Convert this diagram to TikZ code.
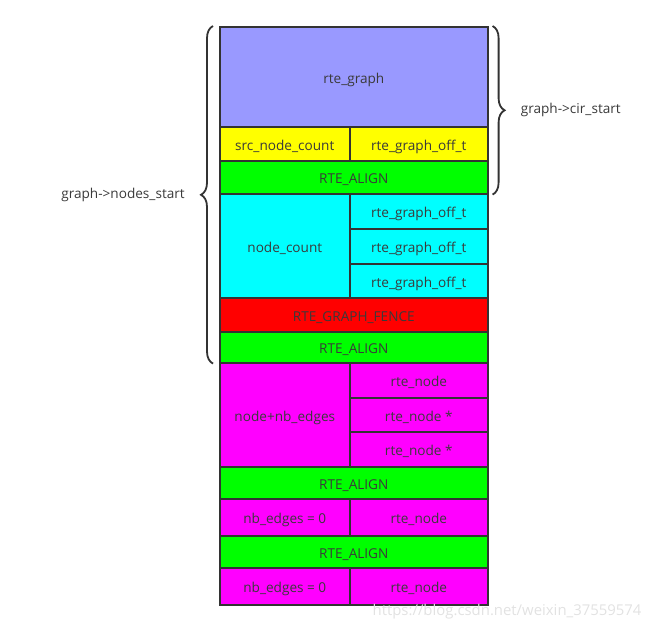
\documentclass[tikz,border=0pt]{standalone}
\usepackage{fontspec}
\setmainfont{Open Sans}
\usepackage{tikz}
\usetikzlibrary{positioning}
\usetikzlibrary{decorations.pathreplacing}

\definecolor{headblue}{HTML}{9999FF}
\definecolor{cellyellow}{HTML}{FFFF00}
\definecolor{cellgreen}{HTML}{00FF00}
\definecolor{cellcyan}{HTML}{00FFFF}
\definecolor{cellred}{HTML}{FF0000}
\definecolor{cellmagenta}{HTML}{FF00FF}
\definecolor{cellline}{HTML}{333333}
\definecolor{celltext}{HTML}{3A3A3A}
\definecolor{markcolor}{HTML}{E2E2E2}

\tikzset{
	cell/.style={draw=cellline, line width=1.6pt, anchor=north west, inner sep=0pt,
		text=celltext, font=\fontsize{13.6}{15}\selectfont, text height=13pt, text depth=0pt},
	wide/.style={cell, minimum width=268pt},
	lhalf/.style={cell, minimum width=130pt},
	rhalf/.style={cell, minimum width=138pt},
	bracket/.style={decorate, decoration={brace, amplitude=12pt}, draw=cellline, line width=1.8pt},
	bracelabel/.style={text=celltext, font=\fontsize{13.6}{15}\selectfont},
}

\begin{document}
\begin{tikzpicture}[x=1pt, y=-1pt]
\useasboundingbox (0,0) rectangle (653,631);

% header
\node[wide, fill=headblue, minimum height=100pt] (graph) at (219,26) {rte\_graph};
\node[lhalf, fill=cellyellow, minimum height=34pt] (srccount) at (219,126) {src\_node\_count};
\node[rhalf, fill=cellyellow, minimum height=34pt] (graphoff) at (349,126) {rte\_graph\_off\_t};
\node[wide, fill=cellgreen, minimum height=33pt] (alignA) at (219,160) {RTE\_ALIGN};

% node offsets
\node[lhalf, fill=cellcyan, minimum height=104pt] (nodecount) at (219,193) {node\_count};
\node[rhalf, fill=cellcyan, minimum height=35pt] (offA) at (349,193) {rte\_graph\_off\_t};
\node[rhalf, fill=cellcyan, minimum height=35pt] (offB) at (349,228) {rte\_graph\_off\_t};
\node[rhalf, fill=cellcyan, minimum height=34pt] (offC) at (349,263) {rte\_graph\_off\_t};
\node[wide, fill=cellred, minimum height=34pt] (fence) at (219,297) {RTE\_GRAPH\_FENCE};
\node[wide, fill=cellgreen, minimum height=31pt] (alignB) at (219,331) {RTE\_ALIGN};

% nodes
\node[lhalf, fill=cellmagenta, minimum height=104pt] (nbedges) at (219,362) {node+nb\_edges};
\node[rhalf, fill=cellmagenta, minimum height=35pt] (rnodeA) at (349,362) {rte\_node};
\node[rhalf, fill=cellmagenta, minimum height=34pt] (rnodeB) at (349,397) {rte\_node *};
\node[rhalf, fill=cellmagenta, minimum height=35pt] (rnodeC) at (349,431) {rte\_node *};
\node[wide, fill=cellgreen, minimum height=32pt] (alignC) at (219,466) {RTE\_ALIGN};
\node[lhalf, fill=cellmagenta, minimum height=37pt] (zeroA) at (219,498) {nb\_edges = 0};
\node[rhalf, fill=cellmagenta, minimum height=37pt] (rnodeD) at (349,498) {rte\_node};
\node[wide, fill=cellgreen, minimum height=32pt] (alignD) at (219,535) {RTE\_ALIGN};
\node[lhalf, fill=cellmagenta, minimum height=37pt] (zeroB) at (219,567) {nb\_edges = 0};
\node[rhalf, fill=cellmagenta, minimum height=37pt] (rnodeE) at (349,567) {rte\_node};

% braces
\coordinate (cirtop) at ([xshift=4pt]graph.north east);
\coordinate (cirbot) at ([xshift=4pt]alignA.south east);
\draw[bracket] (cirtop) -- (cirbot) node[midway, bracelabel, anchor=west, xshift=24pt] (cirlabel) {graph->cir\_start};

\coordinate (nodestop) at ([xshift=-6pt]graph.north west);
\coordinate (nodesbot) at ([xshift=-6pt]alignB.south west);
\draw[bracket] (nodesbot) -- (nodestop) node[midway, bracelabel, anchor=east, xshift=-24pt] (nodeslabel) {graph->nodes\_start};

\node[anchor=east, text=markcolor, font=\fontsize{14.9}{17}\selectfont] (mark) at (645,612) {https://blog.csdn.net/weixin\_37559574};
\end{tikzpicture}
\end{document}
